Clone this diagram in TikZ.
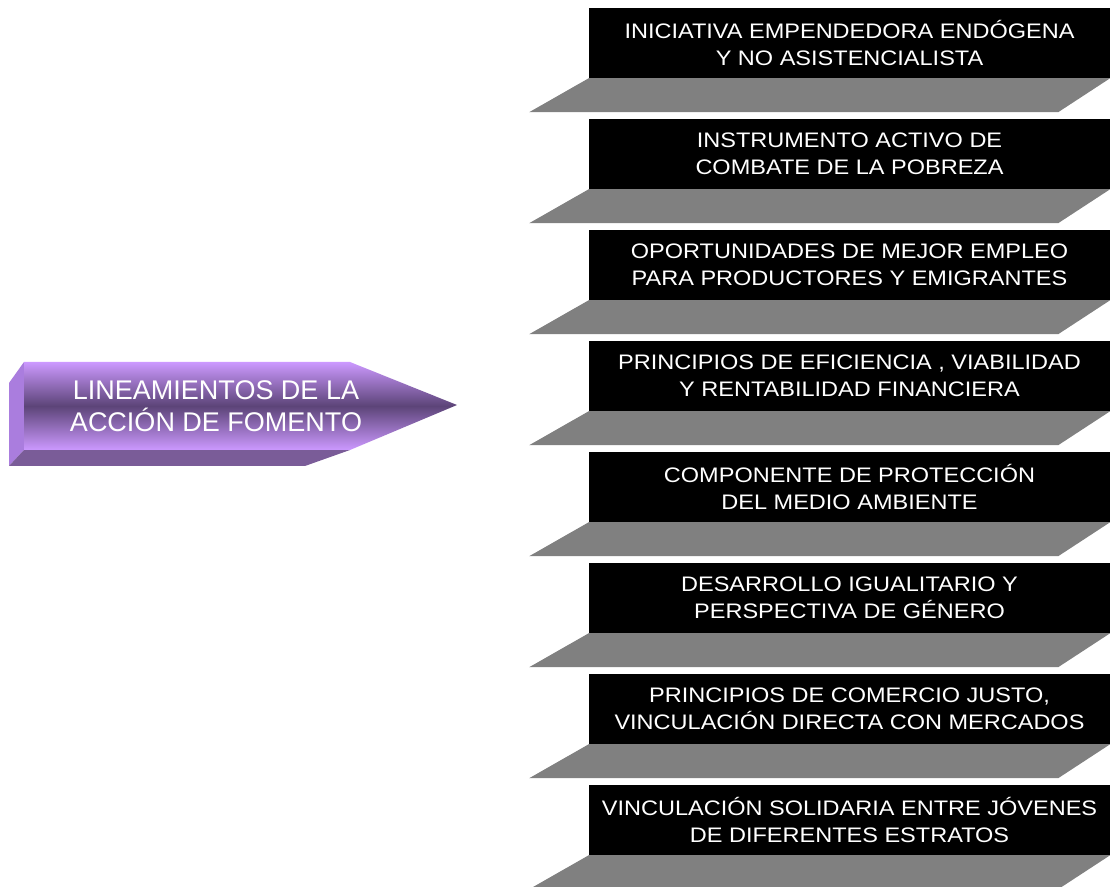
\documentclass[tikz,border=0pt]{standalone}
\usepackage{fontspec}
\setmainfont{Liberation Sans}
\newfontfamily\cajafont[FakeStretch=1.12]{Liberation Sans}
\definecolor{lilaclaro}{RGB}{204,153,255}
\definecolor{lilaoscuro}{RGB}{92,68,120}
\definecolor{lilalado}{RGB}{170,125,222}
\definecolor{lilabase}{RGB}{122,92,152}
\definecolor{repisa}{RGB}{128,128,128}

\begin{document}
\begin{tikzpicture}[x=1pt, y=1pt, node distance=111pt,
  caja/.style={fill=black, text=white, minimum width=521pt, minimum height=70pt,
    inner sep=0pt, align=center, font=\cajafont\fontsize{21}{27}\selectfont},
  repisa/.style={fill=repisa, draw=none}]
\useasboundingbox (0,0) rectangle (1110,886);
% flecha de la izquierda
\fill[lilalado] (24,524) -- (24,436) -- (9,420) -- (9,503) -- cycle;
\fill[lilabase] (24,436) -- (350,436) -- (305,420) -- (9,420) -- cycle;
\shade[top color=lilaclaro, bottom color=lilaclaro, middle color=lilaoscuro]
  (24,524) -- (350,524) -- (457,481) -- (350,436) -- (24,436) -- cycle;
\node  (lin)[text=white, align=center, font=\fontsize{27}{32}\selectfont] at (216,480)
  {LINEAMIENTOS DE LA\\ACCIÓN DE FOMENTO};
% cajas de la derecha
\node  (b1)[caja] at (849.5,843) {INICIATIVA EMPENDEDORA ENDÓGENA\\Y NO ASISTENCIALISTA};
\node  (b2)[caja] [below of = b1] {INSTRUMENTO ACTIVO DE\\COMBATE DE LA POBREZA};
\node  (b3)[caja] [below of = b2] {OPORTUNIDADES DE MEJOR EMPLEO\\PARA PRODUCTORES Y EMIGRANTES};
\node  (b4)[caja] [below of = b3] {PRINCIPIOS DE EFICIENCIA , VIABILIDAD\\Y RENTABILIDAD FINANCIERA};
\node  (b5)[caja] [below of = b4] {COMPONENTE DE PROTECCIÓN\\DEL MEDIO AMBIENTE};
\node  (b6)[caja] [below of = b5] {DESARROLLO IGUALITARIO Y\\PERSPECTIVA DE GÉNERO};
\node  (b7)[caja] [below of = b6] {PRINCIPIOS DE COMERCIO JUSTO,\\VINCULACIÓN DIRECTA CON MERCADOS};
\node  (b8)[caja] [below of = b7] {VINCULACIÓN SOLIDARIA ENTRE JÓVENES\\DE DIFERENTES ESTRATOS};
% repisas grises
\fill[repisa] (b1.south west) -- (b1.south east) -- ++(-52,-34) -- ++(-529,0) -- cycle;
\fill[repisa] (b2.south west) -- (b2.south east) -- ++(-52,-34) -- ++(-529,0) -- cycle;
\fill[repisa] (b3.south west) -- (b3.south east) -- ++(-52,-34) -- ++(-529,0) -- cycle;
\fill[repisa] (b4.south west) -- (b4.south east) -- ++(-52,-34) -- ++(-529,0) -- cycle;
\fill[repisa] (b5.south west) -- (b5.south east) -- ++(-52,-34) -- ++(-529,0) -- cycle;
\fill[repisa] (b6.south west) -- (b6.south east) -- ++(-52,-34) -- ++(-529,0) -- cycle;
\fill[repisa] (b7.south west) -- (b7.south east) -- ++(-52,-34) -- ++(-529,0) -- cycle;
\fill[repisa] (b8.south west) -- (b8.south east) -- ++(-52,-34) -- ++(-529,0) -- cycle;
\end{tikzpicture}
\end{document}
